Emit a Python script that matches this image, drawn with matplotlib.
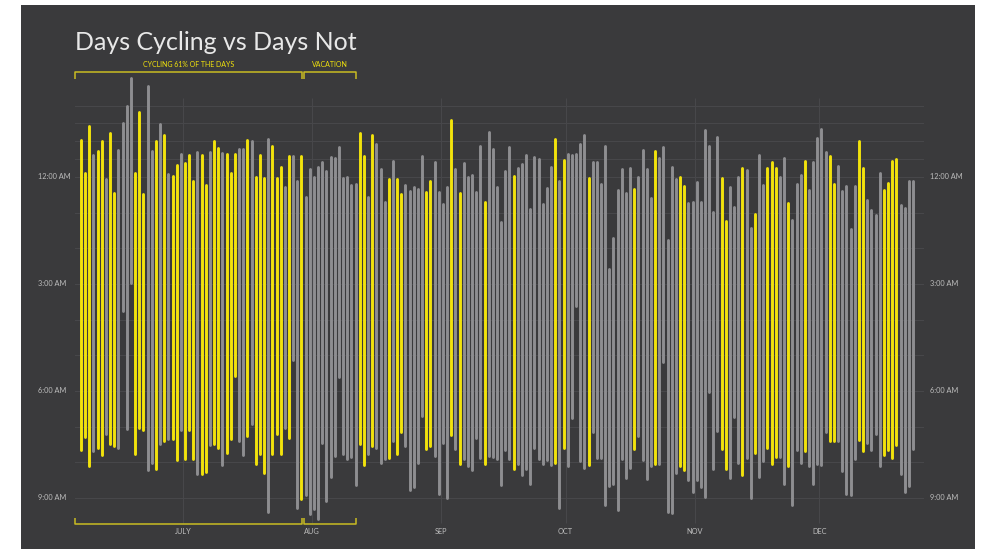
import numpy as np
import pandas as pd
import matplotlib
import matplotlib.pyplot as plt
import matplotlib.dates as mdates
from matplotlib.patches import Rectangle
from matplotlib.transforms import blended_transform_factory

plt.switch_backend('agg')

W, H = 982, 551
BG = '#3a3a3c'
YELLOW = '#f2e30c'
GREY = '#8e8e91'
GRID = '#47474a'
BRACKET = '#c9bc22'
TEXT = '#bdbdbd'
FONT = 'Lato'

# one night per day, 6 Jun .. 23 Dec
dates = pd.date_range('2014-06-06', '2014-12-23')

# bed time / wake time in hours from midnight (negative = evening before)
bed = [
    -1.04, -0.12, -1.44, -0.62, -0.74, -1.00, 0.07, -1.22, 0.46, -0.75,
    -1.52, -1.99, -2.78, -0.10, -1.83, 0.48, -2.55, -0.74, -1.02, -1.48,
    -1.17, -0.08, -0.03, -0.34, -0.65, -0.40, -0.62, 0.12, -0.70, -0.61,
    0.22, -0.69, -1.02, -0.82, -0.66, -0.65, -0.10, -0.65, -0.78, -0.78,
    -1.04, -1.02, -0.01, -0.62, 0.02, -1.06, -0.88, 0.04, -0.29, 0.27,
    -0.60, -0.59, 0.11, -0.59, 0.55, -0.23, -0.01, -0.27, -0.43, -0.18,
    -0.57, -0.53, -0.83, 0.02, 0.01, 0.23, 0.20, -1.23, -0.59, 0.55,
    -1.18, -0.93, -0.23, 0.71, 0.07, -0.44, 0.07, 0.48, 0.23, 0.38,
    0.27, 0.34, -0.59, 0.41, 0.11, -0.43, 0.43, 0.76, 0.27, -1.60,
    -0.22, 0.46, -0.38, -0.01, -0.05, 0.42, -0.88, 0.71, -1.25, -0.79,
    0.29, 1.25, -0.17, -0.85, -0.03, -0.24, -0.36, -0.62, 0.90, -0.57,
    -0.50, 0.77, 0.32, -0.29, -1.06, 0.11, -0.48, -0.65, -0.62, -0.64,
    -0.93, -1.18, 0.02, -0.42, -0.41, 0.20, -0.88, 2.58, 1.71, 0.36,
    -0.22, 0.46, -0.24, 0.33, 0.01, -0.76, -0.22, 0.58, -0.72, -0.54,
    -0.83, 1.77, -0.29, 0.07, -0.01, 0.25, 0.74, 0.70, 0.14, 0.71,
    -1.32, -0.88, 0.97, -1.13, 0.02, 1.23, 0.27, 0.85, 0.01, -0.26,
    -0.20, 1.42, 1.04, -0.63, 0.23, -0.25, -0.43, -0.24, 0.01, -0.52,
    0.74, 1.20, 0.21, -0.05, -0.45, 0.36, -0.43, -1.09, -1.35, -0.70,
    -0.60, 0.19, -0.31, 0.40, 0.24, 1.47, 0.25, -1.01, -0.26, 0.65,
    0.94, 1.06, -0.10, 0.37, 0.16, -0.46, -0.50, 0.79, 0.88, 0.10,
    0.10,
]
wake = [
    7.66, 7.29, 8.10, 7.68, 7.60, 7.80, 7.22, 7.49, 7.55, 7.59,
    3.75, 7.06, 2.98, 7.77, 7.03, 7.10, 8.22, 8.02, 8.19, 7.49,
    7.40, 7.34, 7.35, 7.94, 7.10, 7.90, 7.10, 7.92, 8.32, 8.33,
    8.27, 7.52, 7.50, 7.61, 8.08, 7.74, 7.36, 5.58, 7.41, 7.80,
    7.27, 6.93, 8.04, 7.76, 8.29, 9.39, 7.77, 7.22, 7.76, 7.03,
    7.33, 5.14, 9.27, 9.04, 8.91, 9.44, 9.30, 9.58, 7.46, 9.09,
    8.41, 7.82, 5.60, 7.76, 7.92, 7.85, 8.64, 7.50, 8.08, 7.77,
    7.55, 7.61, 8.02, 7.90, 7.88, 7.41, 7.78, 7.15, 7.55, 8.78,
    8.69, 8.01, 6.70, 7.63, 7.55, 7.82, 8.88, 7.45, 9.00, 7.24,
    7.63, 8.04, 7.91, 8.10, 8.22, 7.32, 7.88, 8.06, 7.83, 7.85,
    7.91, 8.64, 7.66, 7.90, 8.18, 8.04, 8.36, 8.18, 8.60, 7.61,
    7.90, 8.05, 7.94, 8.08, 8.02, 9.28, 7.59, 8.10, 6.77, 3.61,
    7.96, 8.15, 8.08, 7.16, 7.87, 7.88, 9.20, 8.67, 8.62, 9.34,
    7.90, 8.44, 8.16, 7.63, 7.27, 7.94, 8.46, 8.10, 8.04, 8.06,
    5.18, 9.39, 9.41, 8.29, 8.10, 8.22, 8.50, 8.83, 8.50, 8.69,
    8.97, 6.04, 8.18, 7.13, 7.63, 8.18, 8.43, 6.73, 8.01, 8.36,
    7.88, 8.99, 7.73, 8.41, 7.96, 7.60, 8.05, 7.85, 7.85, 8.60,
    8.11, 9.20, 7.66, 8.01, 7.69, 8.11, 8.62, 8.04, 8.08, 7.16,
    7.40, 7.41, 7.41, 8.25, 8.90, 8.91, 7.90, 7.38, 7.68, 7.46,
    7.66, 7.22, 8.10, 7.80, 7.66, 7.88, 7.52, 8.32, 8.83, 8.66,
    7.63,
]
# Y = cycled that day, G = did not
cycled = (
    'YYYGYYGYYG' 'GGGYYYGGYG' 'YGYYGYYYGY' 'YGYYGYYYGG' 'YGYYYGYYYG'
    'YGGYGGGGGG' 'GGGGGGGYYG' 'YGGGYGYYGG' 'GGGYYGGGGY' 'GYGGGGGYGG'
    'GGGGYGGGGG' 'GGGGYGYGGG' 'GGYGGGGGGG' 'GGGYGGGGYG' 'GGGGYYGGGG'
    'GGGGYYGGGY' 'GGYGGYYYGG' 'YGGGYGGGGG' 'YYGGGGGYYG' 'GGGYYYYGGG'
    'G'
)

month_starts = ['2014-07-01', '2014-08-01', '2014-09-01', '2014-10-01', '2014-11-01', '2014-12-01']
month_labels = ['JULY', 'AUG', 'SEP', 'OCT', 'NOV', 'DEC']

hour_ticks = [0, 3, 6, 9]
hour_labels = ['12:00 AM', '3:00 AM', '6:00 AM', '9:00 AM']
grid_hours = [-2, -1.5, -1, -0.5, 0, 1, 2, 3, 4, 5, 6, 7, 8, 9]

brackets = [
    ('CYCLING 61% OF THE DAYS', '2014-06-05 01:30', '2014-07-29 14:30'),
    ('VACATION', '2014-07-30 02:30', '2014-08-11 12:00'),
]

x = mdates.date2num(dates) + 0.5
colors = [YELLOW if c == 'Y' else GREY for c in cycled]

fig = plt.figure(figsize=(W / 100, H / 100), dpi=100, facecolor='white')
fig.patches.append(Rectangle((21 / W, 2 / H), 954 / W, 544 / H,
                             transform=fig.transFigure, facecolor=BG,
                             edgecolor='none', zorder=-5))

ax = fig.add_axes([75 / W, 11 / H, 849 / W, 480 / H])
ax.set_facecolor('none')
ax.set_xlim(x[0] - 1.44, x[-1] + 2.64)
ax.set_ylim(10.18, -3.28)
ax.axis('off')

for h in grid_hours:
    ax.axhline(h, color=GRID, linewidth=0.8, zorder=1)
ms = mdates.date2num(pd.to_datetime(month_starts))
ax.vlines(ms, -2.21, 9.70, color=GRID, linewidth=0.8, zorder=1)

bars = ax.vlines(x, bed, wake, colors=colors, linewidth=2.1, zorder=3)
bars.set_capstyle('round')

# hour labels on both sides
tr = blended_transform_factory(fig.transFigure, ax.transData)
for h, lab in zip(hour_ticks, hour_labels):
    ax.text(38 / W, h, lab, transform=tr, ha='left', va='center',
            fontsize=5.3, color=TEXT, family=FONT)
    ax.text(930 / W, h, lab, transform=tr, ha='left', va='center',
            fontsize=5.3, color=TEXT, family=FONT)

for m, lab in zip(ms, month_labels):
    ax.text(m, 9.95, lab, ha='center', va='center', fontsize=5.3,
            color=TEXT, family=FONT, clip_on=False)

# brackets top and bottom
for lab, a, b in brackets:
    x0 = mdates.date2num(pd.Timestamp(a))
    x1 = mdates.date2num(pd.Timestamp(b))
    ax.plot([x0, x0, x1, x1], [-2.75, -2.94, -2.94, -2.75], color=BRACKET,
            linewidth=1.1, clip_on=False, solid_capstyle='butt')
    ax.plot([x0, x0, x1, x1], [9.56, 9.73, 9.73, 9.56], color=BRACKET,
            linewidth=1.1, clip_on=False, solid_capstyle='butt')
    ax.text((x0 + x1) / 2, -3.14, lab, ha='center', va='center',
            fontsize=5.0, color=YELLOW, family=FONT, clip_on=False)

fig.text(75 / W, 1 - 50 / H, 'Days Cycling vs Days Not', ha='left',
         va='baseline', fontsize=18, color='#e8e8e8', family=FONT)

fig.savefig('out.png', dpi=100, facecolor='white')
